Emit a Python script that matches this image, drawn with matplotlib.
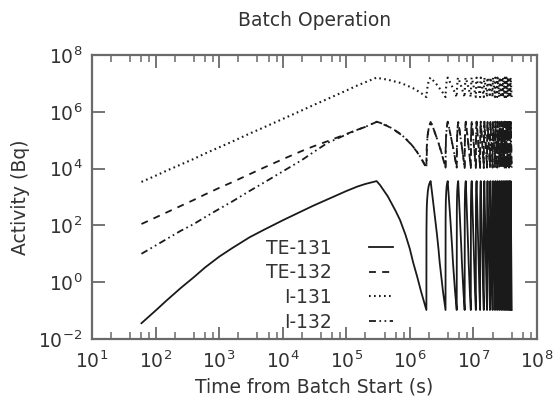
import numpy as np
import matplotlib
matplotlib.use('Agg')
import matplotlib.pyplot as plt
from matplotlib.ticker import LogLocator, NullFormatter, NullLocator

# first batch: irradiation (rise) then decay, times in s, activity in Bq
t_rise = [60, 100, 150, 250, 400, 600, 1e3, 1.6e3, 3e3, 5e3, 1e4, 2e4, 3e4, 5e4, 1e5, 1.5e5, 2e5]
t_decay = [3.0e5, 3.4e5, 4.5e5, 6.0e5, 7.0e5, 8.5e5, 1.0e6, 1.12e6, 1.3e6, 1.5e6, 1.7e6, 1.82e6]

te131_rise = [0.036, 0.1, 0.23, 0.63, 1.5, 3.3, 7.9, 15.8, 38, 69, 151, 316, 490, 813, 1620, 2340, 2880]
te131_decay = [3630, 2630, 1050, 316, 155, 48, 14.8, 5.2, 1.6, 0.47, 0.18, 0.105]

te132_rise = [112, 190, 290, 490, 790, 1230, 2090, 3310, 6310, 1.07e4, 2.14e4, 4.17e4, 6.0e4,
              9.1e4, 1.66e5, 2.34e5, 2.95e5]
te132_decay = [4.4e5, 4.0e5, 3.1e5, 2.1e5, 1.66e5, 1.15e5, 7.9e4, 5.9e4, 3.8e4, 2.3e4, 1.4e4, 1.05e4]

i131_rise = [3.4e3, 5.6e3, 8.5e3, 1.4e4, 2.2e4, 3.4e4, 5.6e4, 8.9e4, 1.7e5, 2.8e5, 5.6e5, 1.12e6,
             1.7e6, 2.8e6, 5.6e6, 8.5e6, 1.1e7]
i131_decay = [1.6e7, 1.5e7, 1.35e7, 1.15e7, 1.05e7, 8.9e6, 7.6e6, 6.8e6, 5.6e6, 4.6e6, 3.7e6, 3.3e6]

i132_rise = [10, 19.5, 33, 65, 112, 195, 380, 690, 1620, 3160, 7940, 2.0e4, 3.7e4, 7.9e4,
             1.58e5, 2.34e5, 2.95e5]
i132_decay = [4.5e5, 4.1e5, 3.2e5, 2.15e5, 1.7e5, 1.18e5, 8.1e4, 6.0e4, 3.9e4, 2.35e4, 1.45e4, 1.08e4]

# start times of the following batches (s)
batch_starts = [1.82e6, 3.64e6, 5.46e6, 7.28e6, 9.10e6, 1.092e7, 1.274e7, 1.456e7,
                1.638e7, 1.82e7, 2.002e7, 2.184e7, 2.366e7, 2.548e7, 2.73e7,
                2.912e7, 3.094e7, 3.276e7, 3.458e7, 3.64e7, 3.822e7]

labels = ['TE-131', 'TE-132', 'I-131', 'I-132']


def batch_series(rise, decay):
    t = list(t_rise) + list(t_decay)
    a = list(rise) + list(decay)
    left = decay[-1]  # activity left over when the next batch starts
    for b in batch_starts:
        t += [b + d for d in t_rise] + [b + d for d in t_decay]
        a += [left + r for r in rise] + list(decay)
    return t, a


plt.rcParams['font.family'] = ['DejaVu Sans']
plt.rcParams['lines.scale_dashes'] = False
txt = '#333333'
grey = '#6a6a6a'
fs = 13.5

fig = plt.figure(figsize=(5.53, 4.09), dpi=100)
ax = fig.add_axes([92/553, 1-339/409, (537-92)/553, (339-55)/409])

styles = [
    ('-', 1.3),
    ((0, (5, 4.5)), 1.3),
    ((0, (1.2, 2.4)), 1.5),
    ((0, (5, 2.5, 1.2, 2.5, 1.2, 2.5)), 1.3),
]
series = [(te131_rise, te131_decay), (te132_rise, te132_decay),
          (i131_rise, i131_decay), (i132_rise, i132_decay)]
for (rise, decay), lab, (ls, lw) in zip(series, labels, styles):
    t, a = batch_series(rise, decay)
    ax.plot(t, a, color='#1a1a1a', linestyle=ls, linewidth=lw, label=lab)

ax.set_xscale('log')
ax.set_yscale('log')
ax.set_xlim(10, 1e8)
ax.set_ylim(1e-2, 1e8)
ax.set_xticks([10.0**k for k in range(1, 9)])
ax.xaxis.set_minor_locator(LogLocator(base=10, subs=[2, 4, 6, 8], numticks=20))
ax.xaxis.set_minor_formatter(NullFormatter())
ax.set_yticks([10.0**k for k in range(-2, 9, 2)])
ax.yaxis.set_minor_locator(NullLocator())

for s in ax.spines.values():
    s.set_color(grey)
    s.set_linewidth(1.6)
ax.tick_params(which='both', direction='in', top=True, right=True, color=grey,
               labelcolor=txt, labelsize=fs)
ax.tick_params(axis='y', which='major', length=9, width=1.3, pad=7)
ax.tick_params(axis='x', which='major', length=9, width=1.3, pad=8)
ax.tick_params(which='minor', length=5, width=1.1)

ax.set_title('Batch Operation', fontsize=fs, color=txt, pad=21)
ax.set_xlabel('Time from Batch Start (s)', fontsize=fs, color=txt, labelpad=4)
ax.set_ylabel('Activity (Bq)', fontsize=fs, color=txt, labelpad=6)

leg = ax.legend(loc='upper right', bbox_to_anchor=(0.676, 0.353), markerfirst=False,
                frameon=False, fontsize=fs, handlelength=1.25, handletextpad=2.0,
                labelspacing=0.3, borderpad=0, borderaxespad=0)
for t in leg.get_texts():
    t.set_color(txt)

fig.savefig('out.png', dpi=100)
